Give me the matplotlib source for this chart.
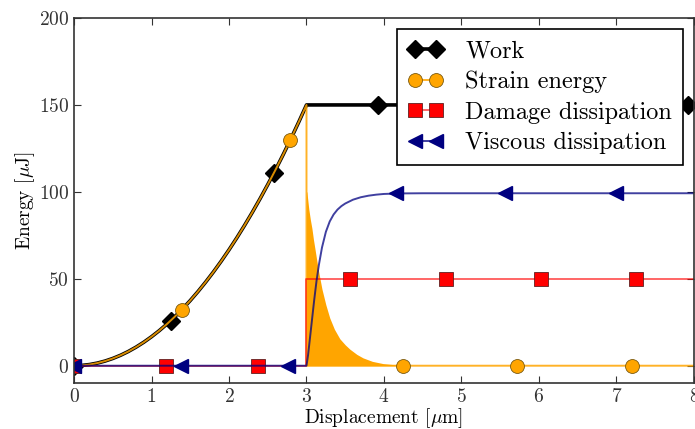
import matplotlib
matplotlib.use('Agg')
import matplotlib.pyplot as plt

plt.rcParams['font.family'] = 'serif'
plt.rcParams['font.serif'] = ['cmr10']
plt.rcParams['mathtext.fontset'] = 'cm'
plt.rcParams['axes.unicode_minus'] = False
plt.rcParams['axes.formatter.use_mathtext'] = True
plt.rcParams['xtick.direction'] = 'in'
plt.rcParams['ytick.direction'] = 'in'
plt.rcParams['xtick.top'] = True
plt.rcParams['ytick.right'] = True

# loading branch (work == strain energy up to 3 um)
load_x = [0, 0.1, 0.2, 0.3, 0.4, 0.5, 0.6, 0.7, 0.8, 0.9, 1.0, 1.1, 1.2, 1.3, 1.4, 1.5,
          1.6, 1.7, 1.8, 1.9, 2.0, 2.1, 2.2, 2.3, 2.4, 2.5, 2.6, 2.7, 2.8, 2.9, 3.0]
load_y = [0, 0.17, 0.67, 1.5, 2.67, 4.17, 6.0, 8.17, 10.67, 13.5, 16.67, 20.17, 24.0,
          28.17, 32.67, 37.5, 42.67, 48.17, 54.0, 60.17, 66.67, 73.5, 80.67, 88.17,
          96.0, 104.17, 112.67, 121.5, 130.67, 140.17, 150.0]

# work
work_x = load_x + [8.0]
work_y = load_y + [150.0]
work_mx = [0, 1.25, 2.58, 3.92, 5.25, 6.58, 7.92]
work_my = [0, 26.0, 111.0, 150, 150, 150, 150]

# strain energy
strain_x = load_x + [3.0, 8.0]
strain_y = load_y + [0, 0]
# envelope of the oscillating strain energy after the break
osc_x = [3.0, 3.005, 3.03, 3.05, 3.07, 3.09, 3.11, 3.14, 3.17, 3.2, 3.25, 3.3, 3.36,
         3.43, 3.5, 3.56, 3.65, 3.73, 3.85, 3.99, 4.15, 4.3]
osc_y = [100, 100, 90, 84, 79, 72.5, 67, 58.5, 51, 44, 35, 27.5, 21,
         15.5, 12, 9.5, 6.5, 4.5, 2.5, 1.2, 0.5, 0]
strain_mx = [0, 1.39, 2.79, 4.25, 5.72, 7.2]
strain_my = [0, 32.3, 130.0, 0, 0, 0]

# damage dissipation
damage_x = [0, 3.0, 3.0, 8.0]
damage_y = [0, 0, 50, 50]
damage_mx = [0, 1.19, 2.38, 3.56, 4.8, 6.03, 7.25]
damage_my = [0, 0, 0, 50, 50, 50, 50]

# viscous dissipation
visc_x = [0, 3.0, 3.02, 3.04, 3.06, 3.08, 3.10, 3.13, 3.16, 3.2, 3.25, 3.3, 3.35, 3.4,
          3.45, 3.5, 3.6, 3.7, 3.8, 3.9, 4.0, 4.2, 4.5, 5.0, 8.0]
visc_y = [0, 0, 6, 14, 22, 30, 38, 49, 58, 68, 77, 83, 87, 89.8,
          91.8, 93.3, 95.5, 96.9, 97.8, 98.4, 98.8, 99.1, 99.2, 99.2, 99.2]
visc_mx = [0, 1.38, 2.76, 4.15, 5.56, 7.0]
visc_my = [0, 0, 0, 99.2, 99.2, 99.2]

fig = plt.figure(figsize=(6.95, 4.29), dpi=100)
ax = fig.add_axes([0.1065, 0.107, 0.892, 0.851])

handles = []

l1, = ax.plot(work_x, work_y, color='k', lw=2.6)
m1, = ax.plot(work_mx, work_my, 'D', color='k', ms=9.5, ls='none')
handles.append((l1, m1))

ax.fill_between(osc_x, 0, osc_y, color='orange', lw=0)
l2, = ax.plot(strain_x, strain_y, color='orange', lw=1.4, alpha=0.85)
m2, = ax.plot(strain_mx, strain_my, 'o', color='orange', mec='#7a5a10', mew=0.6,
              ms=10, ls='none')
handles.append((l2, m2))

l3, = ax.plot(damage_x, damage_y, color='red', lw=1.2, alpha=0.7)
m3, = ax.plot(damage_mx, damage_my, 's', color='red', mec='#602020', mew=0.6,
              ms=10, ls='none')
handles.append((l3, m3))

l4, = ax.plot(visc_x, visc_y, color='navy', lw=1.4, alpha=0.75)
m4, = ax.plot(visc_mx, visc_my, '<', color='navy', mec='navy', ms=10, ls='none')
handles.append((l4, m4))

labels = ['Work', 'Strain energy', 'Damage dissipation', 'Viscous dissipation']
leg = ax.legend(handles, labels, loc='upper right', fontsize=17.5, numpoints=2,
                handlelength=1.45, handletextpad=0.9, fancybox=False, edgecolor='k',
                framealpha=1, borderaxespad=0.45, borderpad=0.45, labelspacing=0.35)
leg.get_frame().set_linewidth(1.2)

ax.set_xlim(0, 8)
ax.set_ylim(-10, 200)
ax.set_xticks(range(0, 9))
ax.set_yticks([0, 50, 100, 150, 200])
ax.tick_params(labelsize=14, length=5, width=0.8, colors='#333333', labelcolor='#333333')
for s in ax.spines.values():
    s.set_linewidth(1.2)
    s.set_color('#333333')

ax.set_xlabel(r'Displacement [$\mu$m]', fontsize=14, labelpad=0.5)
ax.set_ylabel(r'Energy [$\mu$J]', fontsize=14, labelpad=1)

fig.savefig('out.png', dpi=100)
